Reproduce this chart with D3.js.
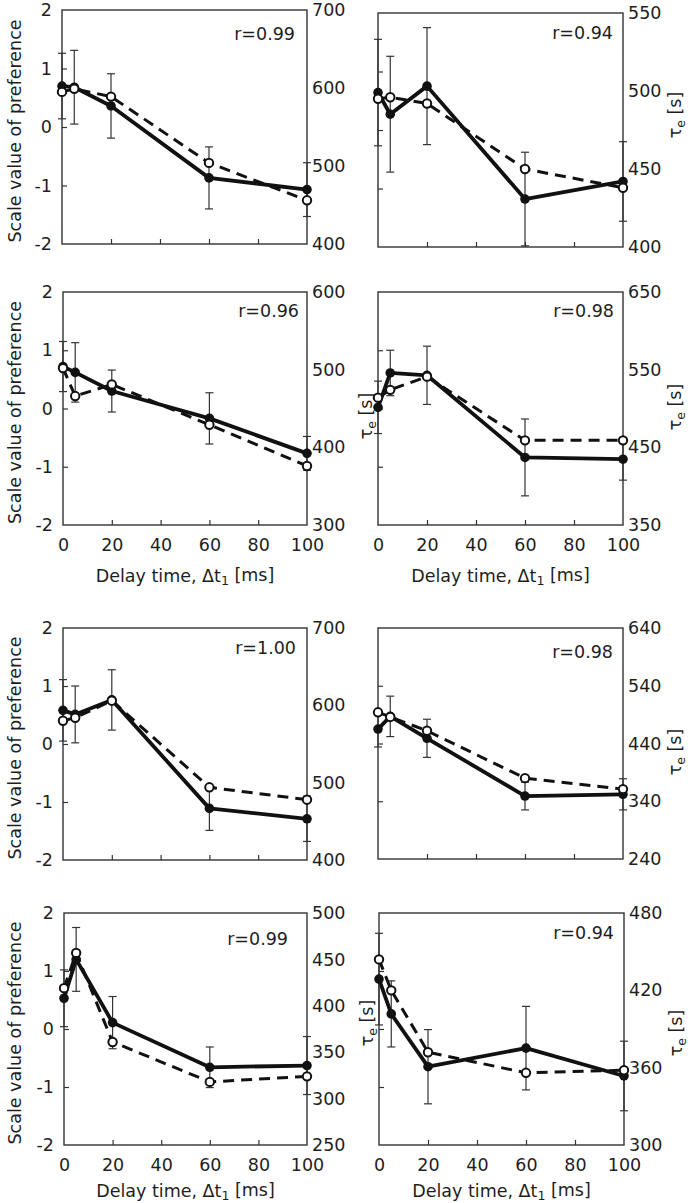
<!DOCTYPE html>
<html>
<head>
<meta charset="utf-8">
<script src="https://cdn.jsdelivr.net/npm/d3@7"></script>
<style>
  html, body { margin: 0; padding: 0; background: #fff; }
  svg { display: block; }
</style>
</head>
<body>
<script>
// ---------- data ----------
const delayTimes = [0, 5, 20, 60, 100];
const xTickValues = [0, 20, 40, 60, 80, 100];
const prefTickValues = [-2, -1, 0, 1, 2];
const prefInnerTicks = [-1, 0, 1];
const xInnerTicks = [20, 40, 60, 80];
const rLabels = ["r=0.99", "r=0.94", "r=0.96", "r=0.98", "r=1.00", "r=0.98", "r=0.99", "r=0.94"];

// scale value of preference (filled circles, solid line) and its error
const prefA = [0.70, 0.68, 0.36, -0.87, -1.07];
const errA  = [0.56, 0.63, 0.55, 0.53, 0.46];
const prefB = [0.64, 0.27, 0.75, -1.18, -0.88];
const errB  = [0.91, 0.99, 1.00, 0.80, 0.68];
const prefC = [0.72, 0.62, 0.30, -0.17, -0.77];
const errC  = [0.43, 0.51, 0.36, 0.44, 0.29];
const prefD = [0.02, 0.61, 0.57, -0.84, -0.87];
const errD  = [0.45, 0.39, 0.50, 0.66, 0.36];
const prefE = [0.58, 0.51, 0.76, -1.11, -1.29];
const errE  = [0.53, 0.49, 0.52, 0.38, 0.39];
const prefF = [0.25, 0.47, 0.09, -0.91, -0.88];
const errF  = [0.31, 0.35, 0.33, 0.24, 0.27];
const prefG = [0.53, 1.20, 0.11, -0.66, -0.63];
const errG  = [0.49, 0.55, 0.45, 0.35, 0.50];
const prefH = [0.86, 0.26, -0.65, -0.33, -0.81];
const errH  = [0.79, 0.57, 0.64, 0.72, 0.60];

// tau_e [s] (open circles, dashed line) and right-axis ticks
const tauA = [595, 599, 589, 504, 456];
const tauTicksA = [400, 500, 600, 700];
const tauB = [495, 496, 492, 450, 438];
const tauTicksB = [400, 450, 500, 550];
const tauC = [502, 466, 481, 429, 376];
const tauTicksC = [300, 400, 500, 600];
const tauD = [514, 524, 541, 459, 459];
const tauTicksD = [350, 450, 550, 650];
const tauE = [580, 584, 606, 494, 478];
const tauTicksE = [400, 500, 600, 700];
const tauF = [494, 486, 462, 380, 361];
const tauTicksF = [240, 340, 440, 540, 640];
const tauG = [419, 457, 361, 318, 324];
const tauTicksG = [250, 300, 350, 400, 450, 500];
const tauH = [444, 420, 372, 356, 358];
const tauTicksH = [300, 360, 420, 480];

const panels = [
  {pref: prefA, err: errA, tau: tauA, tauTicks: tauTicksA, r: rLabels[0]},
  {pref: prefB, err: errB, tau: tauB, tauTicks: tauTicksB, r: rLabels[1]},
  {pref: prefC, err: errC, tau: tauC, tauTicks: tauTicksC, r: rLabels[2]},
  {pref: prefD, err: errD, tau: tauD, tauTicks: tauTicksD, r: rLabels[3]},
  {pref: prefE, err: errE, tau: tauE, tauTicks: tauTicksE, r: rLabels[4]},
  {pref: prefF, err: errF, tau: tauF, tauTicks: tauTicksF, r: rLabels[5]},
  {pref: prefG, err: errG, tau: tauG, tauTicks: tauTicksG, r: rLabels[6]},
  {pref: prefH, err: errH, tau: tauH, tauTicks: tauTicksH, r: rLabels[7]}
];

// ---------- layout ----------
const layout = [
  {x: 62,  y: 10,  w: 245, h: 234, col: 0, xLabels: false, rdx: 12, rdy: 24},
  {x: 378, y: 13,  w: 245, h: 234, col: 1, xLabels: false, rdx: 10, rdy: 20, tauY: 115},
  {x: 63,  y: 292, w: 244, h: 233, col: 0, xLabels: true,  rdx: 8,  rdy: 19, titleDy: 57},
  {x: 378, y: 292, w: 245, h: 233, col: 1, xLabels: true,  rdx: 9,  rdy: 19, tauY: 407, tauLeftY: 416, titleDy: 57},
  {x: 63,  y: 628, w: 244, h: 232, col: 0, xLabels: false, rdx: 11, rdy: 20},
  {x: 378, y: 628, w: 245, h: 231, col: 1, xLabels: false, rdx: 10, rdy: 24, tauY: 752},
  {x: 64,  y: 913, w: 243, h: 232, col: 0, xLabels: true,  rdx: 19, rdy: 26, titleDy: 52},
  {x: 379, y: 913, w: 245, h: 232, col: 1, xLabels: true,  rdx: 10, rdy: 20, tauY: 1033, tauLeftY: 1023, titleDy: 52}
];

const FONT = "'DejaVu Sans', Verdana, sans-serif";
const FS = 17.5;
const INK = "#1e1e1e";

const svg = d3.select("body").append("svg")
  .attr("width", 692).attr("height", 1203)
  .style("font-family", FONT);

function styleAxis(sel) {
  sel.select(".domain").remove();
  sel.selectAll("line").attr("stroke", "#333").attr("stroke-width", 1.2);
  sel.selectAll("text").attr("font-family", FONT).attr("font-size", FS).attr("fill", INK);
  sel.attr("font-family", null).attr("font-size", null);
}

function tauTitle(x, y) {
  const t = svg.append("text")
    .attr("transform", `translate(${x},${y}) rotate(-90)`)
    .attr("text-anchor", "middle").attr("dy", "0.35em")
    .attr("font-size", FS).attr("fill", INK);
  t.append("tspan").text("τ");
  t.append("tspan").attr("font-size", FS * 0.72).attr("dy", "0.3em").text("e");
  t.append("tspan").attr("dy", "-0.22em").text(" [s]");
}

const plainNum = d => String(d);

function drawPanel(p, L) {
  const g = svg.append("g").attr("transform", `translate(${L.x},${L.y})`);
  const x = d3.scaleLinear().domain([0, 100]).range([0, L.w]);
  const yL = d3.scaleLinear().domain([-2, 2]).range([L.h, 0]);
  const yR = d3.scaleLinear().domain(d3.extent(p.tauTicks)).range([L.h, 0]);

  // bottom axis (inward ticks)
  const xa = d3.axisBottom(x).tickValues(L.xLabels ? xTickValues : xInnerTicks)
    .tickSize(-5).tickPadding(14).tickFormat(L.xLabels ? plainNum : "");
  const gx = g.append("g").attr("transform", `translate(0,${L.h})`).call(xa);
  styleAxis(gx);
  gx.selectAll(".tick").filter(d => d === 0 || d === 100).select("line").remove();

  // left axis
  if (L.col === 0) {
    const gyLab = g.append("g").call(d3.axisLeft(yL).tickValues(prefTickValues)
      .tickSize(0).tickPadding(10).tickFormat(plainNum));
    styleAxis(gyLab);
  }
  const gyTick = g.append("g").call(d3.axisLeft(yL).tickValues(prefInnerTicks).tickSize(-5).tickFormat(""));
  styleAxis(gyTick);

  // right axis labels
  const gr = g.append("g").attr("transform", `translate(${L.w},0)`)
    .call(d3.axisRight(yR).tickValues(p.tauTicks).tickSize(0).tickPadding(5).tickFormat(plainNum));
  styleAxis(gr);

  // frame
  g.append("rect").attr("width", L.w).attr("height", L.h)
    .attr("fill", "none").attr("stroke", "#333").attr("stroke-width", 1.4);

  // lines
  const dashLine = d3.line().x((d, i) => x(delayTimes[i])).y(d => yR(d));
  const solidLine = d3.line().x((d, i) => x(delayTimes[i])).y(d => yL(d));
  g.append("path").attr("d", dashLine(p.tau)).attr("fill", "none")
    .attr("stroke", "#111").attr("stroke-width", 3).attr("stroke-dasharray", "11,7");
  g.append("path").attr("d", solidLine(p.pref)).attr("fill", "none")
    .attr("stroke", "#111").attr("stroke-width", 3.8).attr("stroke-linejoin", "round");

  // error bars
  const eb = g.append("g").attr("stroke", "#333").attr("stroke-width", 1.2);
  p.pref.forEach((v, i) => {
    const cx = x(delayTimes[i]);
    const y1 = yL(v + p.err[i]), y2 = yL(v - p.err[i]);
    eb.append("line").attr("x1", cx).attr("x2", cx).attr("y1", y1).attr("y2", y2);
    eb.append("line").attr("x1", cx - 4).attr("x2", cx + 4).attr("y1", y1).attr("y2", y1);
    eb.append("line").attr("x1", cx - 4).attr("x2", cx + 4).attr("y1", y2).attr("y2", y2);
  });

  // filled markers
  g.append("g").selectAll("circle").data(p.pref).join("circle")
    .attr("cx", (d, i) => x(delayTimes[i])).attr("cy", d => yL(d))
    .attr("r", 4.8).attr("fill", "#111");
  // open markers
  g.append("g").selectAll("circle").data(p.tau).join("circle")
    .attr("cx", (d, i) => x(delayTimes[i])).attr("cy", d => yR(d))
    .attr("r", 4.2).attr("fill", "#fff").attr("stroke", "#111").attr("stroke-width", 2);

  // r label
  g.append("text").attr("x", L.w - L.rdx).attr("y", L.rdy).attr("dy", "0.35em")
    .attr("text-anchor", "end").attr("font-size", FS).attr("fill", INK).text(p.r);

  // axis titles
  if (L.col === 0) {
    svg.append("text")
      .attr("transform", `translate(15,${L.y + L.h / 2 + 4}) rotate(-90)`)
      .attr("text-anchor", "middle").attr("dy", "0.35em")
      .attr("font-size", FS).attr("fill", INK).text("Scale value of preference");
  } else {
    tauTitle(L.x + L.w + 52, L.tauY);
    if (L.tauLeftY) tauTitle(L.x - 12, L.tauLeftY);
  }
  if (L.xLabels) {
    const t = svg.append("text")
      .attr("x", L.x + L.w / 2).attr("y", L.y + L.h + L.titleDy)
      .attr("text-anchor", "middle").attr("font-size", FS).attr("fill", INK);
    t.append("tspan").text("Delay time, Δt");
    t.append("tspan").attr("font-size", FS * 0.72).attr("dy", "0.25em").text("1");
    t.append("tspan").attr("dy", "-0.25em").text(" [ms]");
  }
}

panels.forEach((p, i) => drawPanel(p, layout[i]));
</script>
</body>
</html>
